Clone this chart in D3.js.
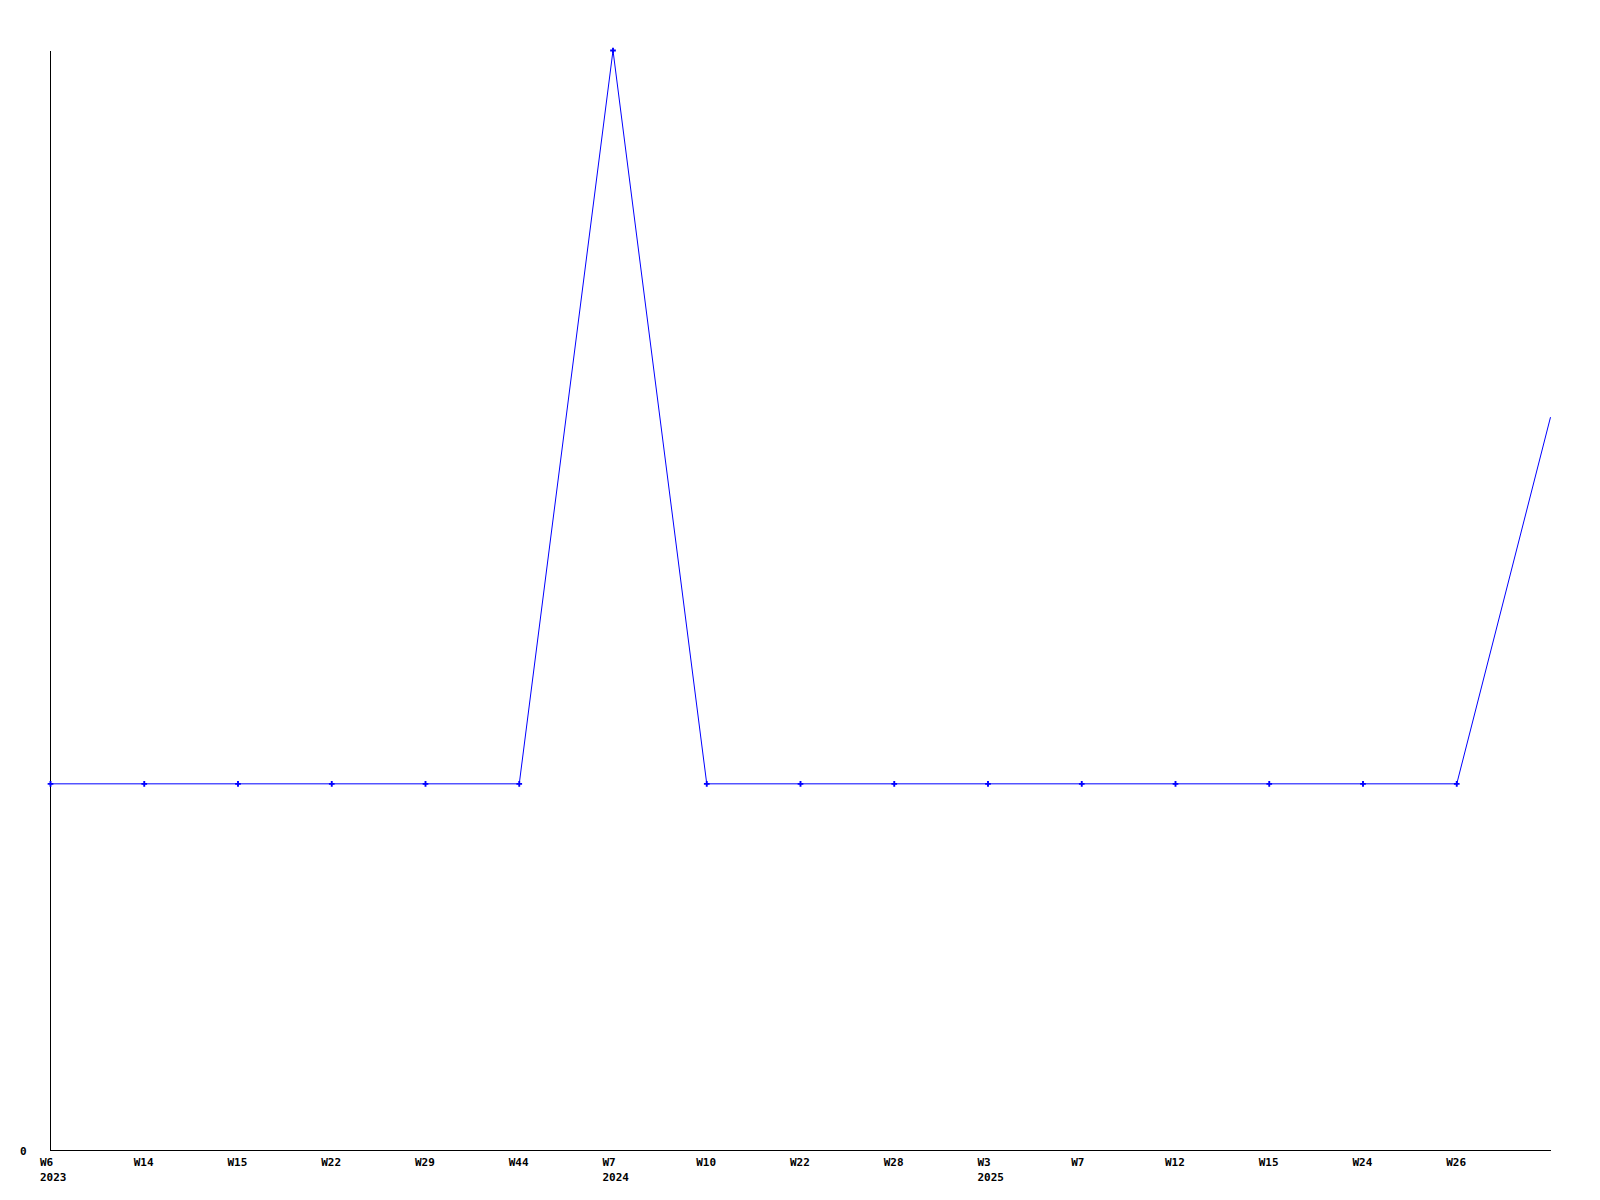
<!DOCTYPE html>
<html>
<head>
<meta charset="utf-8">
<script src="https://cdn.jsdelivr.net/npm/d3@7"></script>
<style>
  html, body { margin: 0; padding: 0; background: #fff; }
  text { font-family: "DejaVu Sans Mono", monospace; font-weight: bold; font-size: 11px; fill: #000; }
</style>
</head>
<body>
<svg id="chart" width="1600" height="1200"></svg>
<script>
// Data
const weekLabels = ["W6","W14","W15","W22","W29","W44","W7","W10","W22","W28","W3","W7","W12","W15","W24","W26",""];
const yearLabels = ["2023","","","","","","2024","","","","2025","","","","","",""];
const values = [1,1,1,1,1,1,3,1,1,1,1,1,1,1,1,1,2];
const markerShown = [1,1,1,1,1,1,1,1,1,1,1,1,1,1,1,1,0];
const yTickValues = [0];

(function () {
const svg = d3.select("#chart");
const mLeft = 50, mRight = 1550, mTop = 50, mBottom = 1150;

const x = d3.scalePoint().domain(d3.range(values.length)).range([mLeft, mRight]);
const y = d3.scaleLinear().domain([0, d3.max(values)]).range([mBottom, mTop]);

const g = svg.append("g").attr("transform", "translate(0.5,0.5)");

// axes lines
g.append("line").attr("x1", mLeft).attr("x2", mLeft).attr("y1", mTop).attr("y2", mBottom)
  .attr("stroke", "#000").attr("stroke-width", 1).attr("shape-rendering", "crispEdges");
g.append("line").attr("x1", mLeft).attr("x2", mRight).attr("y1", mBottom).attr("y2", mBottom)
  .attr("stroke", "#000").attr("stroke-width", 1).attr("shape-rendering", "crispEdges");

// y tick labels
svg.selectAll("text.ylab").data(yTickValues).enter().append("text")
  .attr("class", "ylab").attr("x", 20).attr("y", d => y(d) + 5).text(d => d);

// x labels
svg.selectAll("text.wk").data(weekLabels).enter().append("text")
  .attr("class", "wk").attr("x", (d, i) => x(i) - 10).attr("y", 1166).text(d => d);
svg.selectAll("text.yr").data(yearLabels).enter().append("text")
  .attr("class", "yr").attr("x", (d, i) => x(i) - 10).attr("y", 1181).text(d => d);

// line
const line = d3.line().x((d, i) => x(i)).y(d => y(d));
g.append("path").datum(values).attr("d", line)
  .attr("fill", "none").attr("stroke", "#0000ff").attr("stroke-width", 1);

// markers
g.selectAll("path.mk").data(values.map((v, i) => ({v, i})).filter(d => markerShown[d.i]))
  .enter().append("path").attr("class", "mk")
  .attr("transform", d => `translate(${x(d.i)},${y(d.v)})`)
  .attr("d", d3.symbol().type(d3.symbolCross).size(18))
  .attr("fill", "#0000ff");
})();
</script>
</body>
</html>
